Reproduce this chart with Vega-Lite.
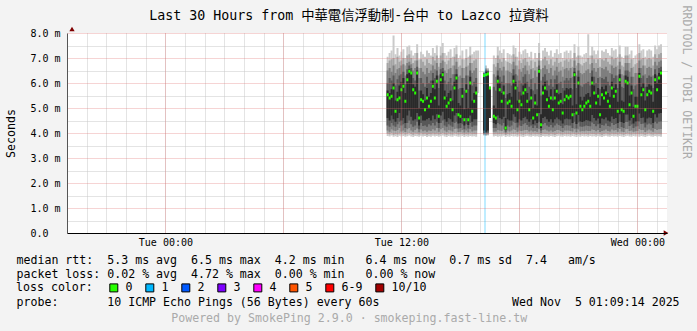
{
"$schema": "https://vega.github.io/schema/vega-lite/v6.json",
"width": 600,
"height": 200,
"autosize": {"type": "none"},
"padding": {"left": 67, "top": 33, "right": 30, "bottom": 98},
"background": "#f3f3f3",
"view": {"fill": "#ffffff", "stroke": null},
"config": {
  "font": "DejaVu Sans Mono",
  "axis": {"labelFont": "DejaVu Sans Mono", "titleFont": "DejaVu Sans Mono", "titleFontWeight": "normal", "titleColor": "#000000", "labelColor": "#000000", "titleLimit": 1000, "labelLimit": 1000}
},
"data": {"values": [
{"h":35.3,"a":3.88,"b":7.05,"c":3.97,"d":6.8,"e":4.1,"f":6.5,"g":4.3,"i":4.6,"j":5.7,"k":6.0,"m":5.53},
{"h":35.4,"a":3.86,"b":7.2,"c":3.95,"d":6.9,"e":4.05,"f":6.6,"g":4.25,"i":4.5,"j":5.6,"k":6.2,"m":5.4},
{"h":35.5,"a":3.9,"b":7.3,"c":4.0,"d":6.95,"e":4.15,"f":6.45,"g":4.4,"i":4.7,"j":5.75,"k":6.1,"m":5.47},
{"h":35.6,"a":3.85,"b":7.9,"c":3.93,"d":7.0,"e":4.1,"f":6.7,"g":4.3,"i":4.55,"j":6.0,"k":6.3,"m":5.8},
{"h":35.7,"a":3.87,"b":7.15,"c":3.96,"d":6.75,"e":4.08,"f":6.4,"g":4.25,"i":4.45,"j":5.3,"k":5.9,"m":4.87},
{"h":35.8,"a":3.84,"b":7.4,"c":3.94,"d":7.05,"e":4.12,"f":6.55,"g":4.35,"i":4.6,"j":5.65,"k":6.15,"m":5.33},
{"h":35.9,"a":3.89,"b":7.1,"c":3.98,"d":6.85,"e":4.2,"f":6.6,"g":4.45,"i":4.8,"j":5.9,"k":6.3,"m":5.4},
{"h":36.0,"a":3.86,"b":7.25,"c":3.95,"d":6.9,"e":4.06,"f":6.7,"g":4.3,"i":4.5,"j":6.05,"k":6.35,"m":5.73},
{"h":36.1,"a":3.88,"b":7.35,"c":3.99,"d":7.0,"e":4.1,"f":6.75,"g":4.35,"i":4.6,"j":6.2,"k":6.45,"m":5.87},
{"h":36.2,"a":3.85,"b":7.0,"c":3.94,"d":6.7,"e":4.04,"f":6.3,"g":4.2,"i":4.4,"j":5.6,"k":5.95,"m":5.27},
{"h":36.3,"a":3.87,"b":7.45,"c":3.97,"d":7.1,"e":4.15,"f":6.8,"g":4.4,"i":4.7,"j":6.35,"k":6.55,"m":6.13},
{"h":36.4,"a":3.9,"b":7.5,"c":4.0,"d":7.15,"e":4.2,"f":6.85,"g":4.5,"i":4.9,"j":6.55,"k":6.7,"m":6.47},
{"h":36.5,"a":3.86,"b":7.3,"c":3.96,"d":7.0,"e":4.1,"f":6.75,"g":4.35,"i":4.65,"j":6.45,"k":6.6,"m":6.4},
{"h":36.6,"a":3.84,"b":7.1,"c":3.93,"d":6.8,"e":4.05,"f":6.5,"g":4.25,"i":4.5,"j":5.95,"k":6.2,"m":5.73},
{"h":36.7,"a":3.88,"b":7.2,"c":3.98,"d":6.9,"e":4.12,"f":6.6,"g":4.3,"i":4.55,"j":5.85,"k":6.1,"m":5.6},
{"h":36.8,"a":3.87,"b":7.55,"c":3.97,"d":7.2,"e":4.18,"f":6.9,"g":4.45,"i":4.8,"j":6.5,"k":6.65,"m":6.4},
{"h":36.9,"a":3.85,"b":6.95,"c":3.94,"d":6.6,"e":4.03,"f":6.2,"g":4.15,"i":4.3,"j":5.0,"k":5.7,"m":4.6},
{"h":37.0,"a":3.89,"b":7.25,"c":3.99,"d":6.95,"e":4.14,"f":6.6,"g":4.4,"i":4.7,"j":5.7,"k":6.2,"m":5.33},
{"h":37.1,"a":3.86,"b":7.15,"c":3.95,"d":6.85,"e":4.07,"f":6.45,"g":4.28,"i":4.5,"j":5.55,"k":6.0,"m":5.27},
{"h":37.2,"a":3.88,"b":7.05,"c":3.97,"d":6.7,"e":4.1,"f":6.35,"g":4.3,"i":4.5,"j":5.3,"k":5.85,"m":4.93},
{"h":37.3,"a":3.84,"b":7.3,"c":3.93,"d":6.95,"e":4.05,"f":6.6,"g":4.25,"i":4.55,"j":5.8,"k":6.25,"m":5.4},
{"h":37.4,"a":3.87,"b":7.2,"c":3.96,"d":6.8,"e":4.1,"f":6.4,"g":4.35,"i":4.6,"j":5.45,"k":6.0,"m":5.07},
{"h":37.5,"a":3.85,"b":7.1,"c":3.95,"d":6.75,"e":4.08,"f":6.5,"g":4.3,"i":4.5,"j":5.6,"k":6.1,"m":5.27},
{"h":37.6,"a":3.89,"b":7.4,"c":3.98,"d":7.05,"e":4.15,"f":6.7,"g":4.4,"i":4.7,"j":6.1,"k":6.4,"m":5.87},
{"h":37.7,"a":3.86,"b":7.2,"c":3.95,"d":6.9,"e":4.1,"f":6.55,"g":4.3,"i":4.55,"j":5.75,"k":6.2,"m":5.4},
{"h":37.8,"a":3.88,"b":7.5,"c":3.97,"d":7.1,"e":4.2,"f":6.8,"g":4.45,"i":4.75,"j":6.3,"k":6.5,"m":6.07},
{"h":37.9,"a":3.85,"b":7.0,"c":3.94,"d":6.65,"e":4.05,"f":6.3,"g":4.2,"i":4.4,"j":5.1,"k":5.8,"m":4.67},
{"h":38.0,"a":3.87,"b":7.45,"c":3.96,"d":7.1,"e":4.15,"f":6.8,"g":4.4,"i":4.7,"j":6.35,"k":6.55,"m":6.13},
{"h":38.1,"a":3.9,"b":7.6,"c":4.0,"d":7.2,"e":4.2,"f":6.9,"g":4.5,"i":4.85,"j":6.45,"k":6.6,"m":6.33},
{"h":38.2,"a":3.86,"b":7.2,"c":3.95,"d":6.85,"e":4.1,"f":6.5,"g":4.3,"i":4.55,"j":5.7,"k":6.1,"m":5.4},
{"h":38.3,"a":3.84,"b":7.1,"c":3.93,"d":6.75,"e":4.05,"f":6.4,"g":4.25,"i":4.45,"j":5.45,"k":5.95,"m":5.07},
{"h":38.4,"a":3.88,"b":7.25,"c":3.98,"d":6.9,"e":4.12,"f":6.55,"g":4.35,"i":4.6,"j":5.6,"k":6.05,"m":5.2},
{"h":38.5,"a":3.86,"b":7.35,"c":3.95,"d":7.0,"e":4.1,"f":6.6,"g":4.3,"i":4.55,"j":5.7,"k":6.2,"m":5.33},
{"h":38.6,"a":3.85,"b":7.05,"c":3.94,"d":6.7,"e":4.06,"f":6.35,"g":4.25,"i":4.45,"j":5.3,"k":5.9,"m":4.93},
{"h":38.7,"a":3.89,"b":7.4,"c":3.99,"d":7.05,"e":4.16,"f":6.7,"g":4.4,"i":4.7,"j":6.05,"k":6.35,"m":5.8},
{"h":38.8,"a":3.87,"b":7.5,"c":3.97,"d":7.15,"e":4.18,"f":6.85,"g":4.45,"i":4.8,"j":6.35,"k":6.55,"m":6.2},
{"h":38.9,"a":3.85,"b":7.0,"c":3.94,"d":6.65,"e":4.04,"f":6.25,"g":4.18,"i":4.38,"j":5.2,"k":5.75,"m":4.73},
{"h":39.0,"a":3.86,"b":7.1,"c":3.95,"d":6.7,"e":4.05,"f":6.3,"g":4.2,"i":4.4,"j":5.1,"k":5.8,"m":4.67},
{"h":39.1,"a":3.88,"b":7.3,"c":3.97,"d":6.95,"e":4.12,"f":6.6,"g":4.35,"i":4.6,"j":5.8,"k":6.2,"m":5.47},
{"h":39.2,"a":3.84,"b":6.95,"c":3.93,"d":6.6,"e":4.02,"f":6.2,"g":4.15,"i":4.3,"j":4.95,"k":5.7,"m":4.53},
{"h":39.3,"a":3.87,"b":7.35,"c":3.96,"d":7.0,"e":4.1,"f":6.65,"g":4.35,"i":4.6,"j":5.95,"k":6.3,"m":5.67},
{"h":39.4,"a":3.85,"b":7.05,"c":3.94,"d":6.7,"e":4.03,"f":6.3,"g":4.18,"i":4.32,"j":5.0,"k":5.75,"m":4.53},
{"h":39.5,"a":3.88,"b":7.45,"c":3.98,"d":7.1,"e":4.15,"f":6.8,"g":4.4,"i":4.7,"j":6.25,"k":6.5,"m":6.0},
{"h":39.6,"a":3.86,"b":7.15,"c":3.95,"d":6.8,"e":4.06,"f":6.4,"g":4.25,"i":4.45,"j":5.3,"k":5.9,"m":4.87},
{"h":39.7,"a":3.87,"b":7.25,"c":3.96,"d":6.9,"e":4.1,"f":6.5,"g":4.3,"i":4.55,"j":5.6,"k":6.05,"m":5.27},
{"h":39.8,"a":3.85,"b":7.3,"c":3.95,"d":6.95,"e":4.1,"f":6.6,"g":4.3,"i":4.55,"j":5.85,"k":6.2,"m":5.6},
{"h":39.9,"a":5.6,"b":7.3},
{"h":40.2,"a":3.9,"b":6.45,"c":3.93,"d":6.42,"e":3.96,"f":6.4,"g":4.0,"i":4.1,"j":6.35,"k":6.38,"m":6.3},
{"h":40.3,"a":3.88,"b":6.7,"c":3.92,"d":6.6,"e":3.95,"f":6.55,"g":4.0,"i":4.05,"j":6.45,"k":6.5,"m":6.33},
{"h":40.4,"a":3.9,"b":6.6,"c":3.93,"d":6.55,"e":3.97,"f":6.5,"g":4.02,"i":4.1,"j":6.42,"k":6.48,"m":6.36},
{"h":40.5,"i":4.6,"j":5.85,"m":5.8},
{"h":40.7,"a":3.86,"b":7.1,"c":3.95,"d":6.75,"e":4.05,"f":6.35,"g":4.2,"i":4.4,"j":5.1,"k":5.85,"m":4.67},
{"h":40.8,"a":3.88,"b":7.0,"c":3.97,"d":6.65,"e":4.06,"f":6.25,"g":4.2,"i":4.35,"j":5.0,"k":5.7,"m":4.6},
{"h":40.9,"a":3.85,"b":7.45,"c":3.95,"d":7.1,"e":4.12,"f":6.8,"g":4.4,"i":4.7,"j":6.3,"k":6.5,"m":6.07},
{"h":41.0,"a":3.87,"b":7.3,"c":3.96,"d":6.95,"e":4.1,"f":6.6,"g":4.35,"i":4.6,"j":6.0,"k":6.25,"m":5.73},
{"h":41.1,"a":3.86,"b":7.2,"c":3.95,"d":6.85,"e":4.08,"f":6.5,"g":4.3,"i":4.55,"j":5.6,"k":6.05,"m":5.27},
{"h":41.2,"a":3.89,"b":7.35,"c":3.98,"d":7.0,"e":4.14,"f":6.65,"g":4.4,"i":4.65,"j":5.9,"k":6.3,"m":5.6},
{"h":41.3,"a":3.84,"b":6.9,"c":3.92,"d":6.5,"e":3.98,"f":6.0,"g":4.05,"i":4.12,"j":4.6,"k":5.4,"m":4.2},
{"h":41.4,"a":3.87,"b":7.2,"c":3.96,"d":6.85,"e":4.1,"f":6.5,"g":4.3,"i":4.55,"j":5.55,"k":6.0,"m":5.2},
{"h":41.5,"a":3.85,"b":7.15,"c":3.94,"d":6.8,"e":4.06,"f":6.45,"g":4.25,"i":4.5,"j":5.6,"k":6.0,"m":5.27},
{"h":41.6,"a":3.88,"b":7.1,"c":3.97,"d":6.75,"e":4.1,"f":6.4,"g":4.3,"i":4.5,"j":5.45,"k":5.9,"m":5.07},
{"h":41.7,"a":3.86,"b":7.5,"c":3.96,"d":7.15,"e":4.15,"f":6.85,"g":4.45,"i":4.75,"j":6.3,"k":6.55,"m":6.07},
{"h":41.8,"a":3.87,"b":7.4,"c":3.97,"d":7.05,"e":4.12,"f":6.7,"g":4.4,"i":4.65,"j":6.05,"k":6.35,"m":5.8},
{"h":41.9,"a":3.85,"b":7.05,"c":3.94,"d":6.7,"e":4.05,"f":6.3,"g":4.22,"i":4.42,"j":5.3,"k":5.85,"m":4.93},
{"h":42.0,"a":3.88,"b":7.25,"c":3.97,"d":6.9,"e":4.1,"f":6.55,"g":4.3,"i":4.55,"j":5.65,"k":6.1,"m":5.27},
{"h":42.1,"a":3.86,"b":7.15,"c":3.95,"d":6.8,"e":4.08,"f":6.45,"g":4.28,"i":4.5,"j":5.5,"k":6.0,"m":5.13},
{"h":42.2,"a":3.84,"b":7.3,"c":3.93,"d":6.95,"e":4.1,"f":6.6,"g":4.35,"i":4.6,"j":5.9,"k":6.25,"m":5.6},
{"h":42.3,"a":3.87,"b":7.35,"c":3.96,"d":7.0,"e":4.12,"f":6.7,"g":4.4,"i":4.65,"j":6.0,"k":6.35,"m":5.73},
{"h":42.4,"a":3.89,"b":7.2,"c":3.98,"d":6.85,"e":4.12,"f":6.5,"g":4.32,"i":4.55,"j":5.6,"k":6.05,"m":5.27},
{"h":42.5,"a":3.86,"b":7.05,"c":3.95,"d":6.7,"e":4.06,"f":6.35,"g":4.25,"i":4.45,"j":5.3,"k":5.85,"m":4.93},
{"h":42.6,"a":3.85,"b":7.25,"c":3.94,"d":6.9,"e":4.1,"f":6.55,"g":4.3,"i":4.55,"j":5.75,"k":6.15,"m":5.4},
{"h":42.7,"a":3.88,"b":6.95,"c":3.97,"d":6.6,"e":4.06,"f":6.2,"g":4.2,"i":4.35,"j":5.0,"k":5.7,"m":4.6},
{"h":42.8,"a":3.86,"b":7.2,"c":3.95,"d":6.85,"e":4.08,"f":6.5,"g":4.3,"i":4.5,"j":5.55,"k":6.0,"m":5.2},
{"h":42.9,"a":3.87,"b":7.0,"c":3.96,"d":6.65,"e":4.05,"f":6.25,"g":4.2,"i":4.4,"j":5.1,"k":5.75,"m":4.73},
{"h":43.0,"a":3.85,"b":7.6,"c":3.95,"d":7.2,"e":4.15,"f":6.9,"g":4.45,"i":4.8,"j":6.55,"k":6.7,"m":6.47},
{"h":43.1,"a":3.84,"b":6.9,"c":3.93,"d":6.55,"e":4.0,"f":6.1,"g":4.1,"i":4.2,"j":4.75,"k":5.5,"m":4.33},
{"h":43.2,"a":3.88,"b":7.3,"c":3.97,"d":6.95,"e":4.12,"f":6.6,"g":4.35,"i":4.6,"j":5.9,"k":6.25,"m":5.6},
{"h":43.3,"a":3.86,"b":7.4,"c":3.96,"d":7.05,"e":4.14,"f":6.7,"g":4.4,"i":4.65,"j":6.05,"k":6.35,"m":5.8},
{"h":43.4,"a":3.87,"b":7.25,"c":3.96,"d":6.9,"e":4.1,"f":6.55,"g":4.3,"i":4.55,"j":5.7,"k":6.1,"m":5.33},
{"h":43.5,"a":3.85,"b":7.1,"c":3.94,"d":6.75,"e":4.06,"f":6.4,"g":4.25,"i":4.45,"j":5.45,"k":5.9,"m":5.07},
{"h":43.6,"a":3.88,"b":7.3,"c":3.97,"d":6.95,"e":4.1,"f":6.6,"g":4.32,"i":4.55,"j":5.75,"k":6.15,"m":5.4},
{"h":43.7,"a":3.86,"b":7.05,"c":3.95,"d":6.7,"e":4.05,"f":6.3,"g":4.22,"i":4.42,"j":5.3,"k":5.85,"m":4.93},
{"h":43.8,"a":3.84,"b":7.2,"c":3.93,"d":6.85,"e":4.08,"f":6.5,"g":4.3,"i":4.55,"j":5.75,"k":6.15,"m":5.4},
{"h":43.9,"a":3.87,"b":7.35,"c":3.96,"d":7.0,"e":4.12,"f":6.65,"g":4.38,"i":4.62,"j":5.95,"k":6.3,"m":5.67},
{"h":44.0,"a":3.89,"b":7.15,"c":3.98,"d":6.8,"e":4.12,"f":6.45,"g":4.32,"i":4.55,"j":5.55,"k":6.0,"m":5.2},
{"h":44.1,"a":3.86,"b":7.2,"c":3.95,"d":6.85,"e":4.08,"f":6.5,"g":4.28,"i":4.5,"j":5.6,"k":6.05,"m":5.27},
{"h":44.2,"a":3.85,"b":7.0,"c":3.94,"d":6.65,"e":4.04,"f":6.25,"g":4.2,"i":4.38,"j":5.15,"k":5.8,"m":4.8},
{"h":44.3,"a":3.88,"b":7.25,"c":3.97,"d":6.9,"e":4.1,"f":6.55,"g":4.3,"i":4.55,"j":5.7,"k":6.1,"m":5.33},
{"h":44.4,"a":3.86,"b":7.3,"c":3.95,"d":6.95,"e":4.1,"f":6.6,"g":4.32,"i":4.58,"j":5.8,"k":6.2,"m":5.47},
{"h":44.5,"a":3.87,"b":7.2,"c":3.96,"d":6.85,"e":4.1,"f":6.5,"g":4.3,"i":4.55,"j":5.75,"k":6.1,"m":5.4},
{"h":44.6,"a":3.85,"b":7.3,"c":3.94,"d":6.95,"e":4.08,"f":6.6,"g":4.3,"i":4.55,"j":5.8,"k":6.2,"m":5.47},
{"h":44.7,"a":3.88,"b":7.0,"c":3.97,"d":6.65,"e":4.06,"f":6.25,"g":4.2,"i":4.4,"j":5.1,"k":5.75,"m":4.73},
{"h":44.8,"a":3.86,"b":7.55,"c":3.96,"d":7.2,"e":4.15,"f":6.9,"g":4.45,"i":4.8,"j":6.45,"k":6.6,"m":6.33},
{"h":44.9,"a":3.84,"b":7.05,"c":3.93,"d":6.7,"e":4.03,"f":6.3,"g":4.18,"i":4.36,"j":5.15,"k":5.8,"m":4.8},
{"h":45.0,"a":3.87,"b":7.45,"c":3.96,"d":7.1,"e":4.14,"f":6.8,"g":4.42,"i":4.72,"j":6.25,"k":6.5,"m":6.0},
{"h":45.1,"a":3.85,"b":7.1,"c":3.94,"d":6.75,"e":4.06,"f":6.4,"g":4.26,"i":4.46,"j":5.45,"k":5.9,"m":5.07},
{"h":45.2,"a":3.88,"b":7.05,"c":3.97,"d":6.7,"e":4.08,"f":6.35,"g":4.25,"i":4.44,"j":5.3,"k":5.85,"m":4.93},
{"h":45.3,"a":3.86,"b":7.15,"c":3.95,"d":6.8,"e":4.07,"f":6.4,"g":4.27,"i":4.47,"j":5.45,"k":5.95,"m":5.07},
{"h":45.4,"a":3.87,"b":7.2,"c":3.96,"d":6.85,"e":4.1,"f":6.5,"g":4.3,"i":4.52,"j":5.55,"k":6.0,"m":5.2},
{"h":45.5,"a":3.85,"b":7.95,"c":3.94,"d":7.0,"e":4.08,"f":6.55,"g":4.28,"i":4.5,"j":5.6,"k":6.05,"m":5.27},
{"h":45.6,"a":3.88,"b":7.1,"c":3.97,"d":6.75,"e":4.08,"f":6.4,"g":4.27,"i":4.47,"j":5.45,"k":5.9,"m":5.07},
{"h":45.7,"a":3.86,"b":7.45,"c":3.96,"d":7.1,"e":4.14,"f":6.8,"g":4.42,"i":4.72,"j":6.25,"k":6.5,"m":6.0},
{"h":45.8,"a":3.87,"b":7.3,"c":3.96,"d":6.95,"e":4.12,"f":6.6,"g":4.36,"i":4.6,"j":5.9,"k":6.25,"m":5.6},
{"h":45.9,"a":3.85,"b":7.15,"c":3.94,"d":6.8,"e":4.07,"f":6.45,"g":4.27,"i":4.5,"j":5.55,"k":6.0,"m":5.2},
{"h":46.0,"a":3.88,"b":7.3,"c":3.97,"d":6.95,"e":4.12,"f":6.6,"g":4.35,"i":4.58,"j":5.8,"k":6.2,"m":5.47},
{"h":46.1,"a":3.86,"b":7.0,"c":3.95,"d":6.65,"e":4.04,"f":6.25,"g":4.2,"i":4.38,"j":5.1,"k":5.75,"m":4.73},
{"h":46.2,"a":3.84,"b":7.3,"c":3.93,"d":6.95,"e":4.08,"f":6.6,"g":4.32,"i":4.58,"j":5.85,"k":6.2,"m":5.53},
{"h":46.3,"a":3.87,"b":7.25,"c":3.96,"d":6.9,"e":4.1,"f":6.55,"g":4.3,"i":4.55,"j":5.75,"k":6.15,"m":5.4},
{"h":46.4,"a":3.89,"b":7.35,"c":3.98,"d":7.0,"e":4.14,"f":6.65,"g":4.38,"i":4.62,"j":5.9,"k":6.25,"m":5.6},
{"h":46.5,"a":3.86,"b":7.2,"c":3.95,"d":6.85,"e":4.08,"f":6.5,"g":4.28,"i":4.5,"j":5.6,"k":6.05,"m":5.27},
{"h":46.6,"a":3.85,"b":7.1,"c":3.94,"d":6.75,"e":4.06,"f":6.4,"g":4.26,"i":4.46,"j":5.45,"k":5.9,"m":5.07},
{"h":46.7,"a":3.88,"b":7.4,"c":3.97,"d":7.05,"e":4.14,"f":6.7,"g":4.4,"i":4.66,"j":6.05,"k":6.35,"m":5.8},
{"h":46.8,"a":3.86,"b":7.3,"c":3.95,"d":6.95,"e":4.1,"f":6.6,"g":4.32,"i":4.56,"j":5.8,"k":6.2,"m":5.47},
{"h":46.9,"a":3.87,"b":7.35,"c":3.96,"d":7.0,"e":4.12,"f":6.65,"g":4.36,"i":4.6,"j":5.95,"k":6.3,"m":5.67},
{"h":47.0,"a":3.85,"b":7.05,"c":3.94,"d":6.7,"e":4.05,"f":6.3,"g":4.2,"i":4.4,"j":5.25,"k":5.8,"m":4.87},
{"h":47.1,"a":3.88,"b":7.5,"c":3.97,"d":7.15,"e":4.16,"f":6.85,"g":4.45,"i":4.75,"j":6.35,"k":6.55,"m":6.13},
{"h":47.2,"a":3.86,"b":7.05,"c":3.95,"d":6.7,"e":4.06,"f":6.35,"g":4.24,"i":4.44,"j":5.3,"k":5.85,"m":4.93},
{"h":47.3,"a":3.84,"b":7.0,"c":3.93,"d":6.65,"e":4.04,"f":6.3,"g":4.2,"i":4.4,"j":5.25,"k":5.8,"m":4.87},
{"h":47.4,"a":3.87,"b":7.45,"c":3.96,"d":7.1,"e":4.15,"f":6.8,"g":4.44,"i":4.74,"j":6.3,"k":6.5,"m":6.07},
{"h":47.5,"a":3.89,"b":7.45,"c":3.98,"d":7.1,"e":4.16,"f":6.8,"g":4.44,"i":4.74,"j":6.25,"k":6.5,"m":6.0},
{"h":47.6,"a":3.86,"b":7.15,"c":3.95,"d":6.8,"e":4.08,"f":6.45,"g":4.28,"i":4.5,"j":5.5,"k":6.0,"m":5.13},
{"h":47.7,"a":3.85,"b":7.3,"c":3.94,"d":6.95,"e":4.1,"f":6.6,"g":4.34,"i":4.6,"j":5.9,"k":6.25,"m":5.6},
{"h":47.8,"a":3.88,"b":7.0,"c":3.97,"d":6.65,"e":4.05,"f":6.25,"g":4.2,"i":4.38,"j":5.05,"k":5.75,"m":4.67},
{"h":47.9,"a":3.86,"b":7.1,"c":3.95,"d":6.75,"e":4.07,"f":6.4,"g":4.26,"i":4.46,"j":5.45,"k":5.9,"m":5.07},
{"h":48.0,"a":3.87,"b":7.15,"c":3.96,"d":6.8,"e":4.08,"f":6.4,"g":4.27,"i":4.47,"j":5.45,"k":5.95,"m":5.07},
{"h":48.1,"a":3.85,"b":7.55,"c":3.95,"d":7.2,"e":4.16,"f":6.9,"g":4.46,"i":4.78,"j":6.4,"k":6.6,"m":6.27},
{"h":48.2,"a":3.88,"b":7.3,"c":3.97,"d":6.95,"e":4.12,"f":6.6,"g":4.36,"i":4.6,"j":5.85,"k":6.2,"m":5.53},
{"h":48.3,"a":3.86,"b":7.35,"c":3.95,"d":7.0,"e":4.12,"f":6.7,"g":4.38,"i":4.62,"j":6.0,"k":6.3,"m":5.73},
{"h":48.4,"a":3.84,"b":7.05,"c":3.93,"d":6.7,"e":4.04,"f":6.35,"g":4.22,"i":4.42,"j":5.3,"k":5.85,"m":4.93},
{"h":48.5,"a":3.87,"b":7.3,"c":3.96,"d":6.95,"e":4.1,"f":6.6,"g":4.34,"i":4.58,"j":5.85,"k":6.2,"m":5.53},
{"h":48.6,"a":3.89,"b":7.35,"c":3.98,"d":7.0,"e":4.14,"f":6.65,"g":4.38,"i":4.62,"j":5.95,"k":6.3,"m":5.67},
{"h":48.7,"a":3.86,"b":7.3,"c":3.95,"d":6.95,"e":4.1,"f":6.6,"g":4.34,"i":4.6,"j":5.9,"k":6.25,"m":5.6},
{"h":48.8,"a":3.85,"b":7.05,"c":3.94,"d":6.7,"e":4.05,"f":6.3,"g":4.2,"i":4.4,"j":5.25,"k":5.8,"m":4.87},
{"h":48.9,"a":3.88,"b":7.5,"c":3.97,"d":7.15,"e":4.16,"f":6.85,"g":4.45,"i":4.75,"j":6.35,"k":6.55,"m":6.13},
{"h":49.0,"a":3.86,"b":7.35,"c":3.95,"d":7.0,"e":4.12,"f":6.7,"g":4.38,"i":4.62,"j":6.0,"k":6.3,"m":5.73},
{"h":49.1,"a":3.87,"b":7.5,"c":3.96,"d":7.15,"e":4.15,"f":6.85,"g":4.45,"i":4.78,"j":6.4,"k":6.6,"m":6.2},
{"h":49.2,"a":3.85,"b":7.55,"c":3.95,"d":7.2,"e":4.16,"f":6.9,"g":4.46,"i":4.8,"j":6.5,"k":6.65,"m":6.4}
]},
"resolve": {"axis": {"x": "independent", "y": "independent"}},
"layer": [
  {
    "mark": {"type": "bar", "width": 2, "color": "#cacaca"},
    "encoding": {
      "x": {"field": "h", "type": "quantitative", "scale": {"domain": [19.25, 49.25], "nice": false, "zero": false},
        "axis": {"orient": "bottom", "grid": true, "gridColor": "#c8c8c8", "gridDash": [1, 1], "values": [20,21,22,23,24,25,26,27,28,29,30,31,32,33,34,35,36,37,38,39,40,41,42,43,44,45,46,47,48,49], "labels": false, "ticks": false, "domain": false, "zindex": 0,
          "title": "Powered by SmokePing 2.9.0 · smokeping.fast-line.tw", "titleColor": "#aaaaaa", "titleFontSize": 11.6, "titleX": 281.7, "titleY": 85.7, "titleAlign": "center", "titleBaseline": "middle", "titleAngle": 0}},
      "y": {"field": "a", "type": "quantitative", "scale": {"domain": [0, 8], "nice": false},
        "axis": {"orient": "right", "grid": true, "gridColor": "#c8c8c8", "gridDash": [1, 1], "values": [0.5, 1.5, 2.5, 3.5, 4.5, 5.5, 6.5, 7.5], "labels": false, "ticks": false, "domain": false, "zindex": 0,
          "title": "RRDTOOL / TOBI OETIKER", "titleColor": "#aaaaaa", "titleFontSize": 11.6, "titleAngle": 90, "titleX": 18, "titleY": -28, "titleAlign": "left", "titleBaseline": "middle"}},
      "y2": {"field": "b"}
    }
  },
  {
    "mark": {"type": "bar", "width": 2, "color": "#a4a4a4"},
    "encoding": {
      "x": {"field": "h", "type": "quantitative", "scale": {"domain": [19.25, 49.25], "nice": false, "zero": false},
        "axis": {"orient": "bottom", "grid": true, "gridColor": "#e07070", "gridOpacity": 0.6, "gridDash": [1, 1], "values": [24, 30, 36, 42, 48],
          "labelExpr": "datum.value == 24 ? 'Tue 00:00' : datum.value == 36 ? 'Tue 12:00' : datum.value == 48 ? 'Wed 00:00' : ''", "labelFontSize": 10, "labelPadding": 9, "labelBaseline": "middle", "labelOverlap": false, "labelFlush": false,
          "ticks": false, "domain": true, "domainColor": "#000000", "zindex": 1,
          "title": ["median rtt:\u00a0\u00a05.3 ms avg\u00a0\u00a06.5 ms max\u00a0\u00a04.2 ms min\u00a0\u00a0\u00a06.4 ms now\u00a0\u00a00.7 ms sd\u00a0\u00a07.4\u00a0\u00a0\u00a0am/s", "packet loss: 0.02 % avg\u00a0\u00a04.72 % max\u00a0\u00a00.00 % min\u00a0\u00a0\u00a00.00 % now"],
          "titleFontSize": 11.6, "titleX": -51, "titleY": 30, "titleAlign": "left", "titleBaseline": "alphabetic", "titleLineHeight": 14, "titleAngle": 0}},
      "y": {"field": "c", "type": "quantitative", "scale": {"domain": [0, 8], "nice": false},
        "axis": {"orient": "left", "grid": true, "gridColor": "#e07070", "gridOpacity": 0.6, "gridDash": [1, 1], "values": [0, 1, 2, 3, 4, 5, 6, 7, 8],
          "labelExpr": "datum.value == 0 ? '0.0' : format(datum.value, '.1f') + ' m'", "labelAlign": "left", "labelPadding": 37, "labelBaseline": "middle", "labelFontSize": 10,
          "ticks": false, "domain": true, "domainColor": "#555555", "zindex": 1,
          "title": "Seconds", "titleFontSize": 11.6, "titleX": -56, "titleY": 100, "titleAngle": 270, "titleAlign": "center", "titleBaseline": "middle"}},
      "y2": {"field": "d"}
    }
  },
  {
    "mark": {"type": "bar", "width": 2, "color": "#7e7e7e"},
    "encoding": {
      "x": {"field": "h", "type": "quantitative", "scale": {"domain": [19.25, 49.25], "nice": false, "zero": false},
        "axis": {"orient": "top", "grid": false, "labels": false, "ticks": false, "domain": false,
          "title": "Last 30 Hours from 中華電信浮動制-台中 to Lazco 拉資料", "titleFont": "DejaVu Sans Mono, Noto Sans CJK TC", "titleFontSize": 13.3, "titleX": 281.5, "titleY": -18, "titleAlign": "center", "titleBaseline": "middle", "titleAngle": 0}},
      "y": {"field": "e", "type": "quantitative", "scale": {"domain": [0, 8], "nice": false}, "axis": null},
      "y2": {"field": "f"}
    }
  },
  {
    "mark": {"type": "bar", "width": 2, "color": "#585858"},
    "encoding": {
      "x": {"field": "h", "type": "quantitative", "scale": {"domain": [19.25, 49.25], "nice": false, "zero": false},
        "axis": {"orient": "bottom", "grid": false, "labels": false, "ticks": false, "domain": false,
          "title": "probe:\u00a0\u00a0\u00a0\u00a0\u00a0\u00a0\u00a010 ICMP Echo Pings (56 Bytes) every 60s\u00a0\u00a0\u00a0\u00a0\u00a0\u00a0\u00a0\u00a0\u00a0\u00a0\u00a0\u00a0\u00a0\u00a0\u00a0\u00a0\u00a0\u00a0\u00a0Wed Nov\u00a0\u00a05 01:09:14 2025",
          "titleFontSize": 11.6, "titleX": -51, "titleY": 72.3, "titleAlign": "left", "titleBaseline": "alphabetic", "titleAngle": 0}},
      "y": {"field": "g", "type": "quantitative", "axis": null},
      "y2": {"field": "k"}
    }
  },
  {
    "mark": {"type": "bar", "width": 2, "color": "#2a2a2a"},
    "encoding": {
      "x": {"field": "h", "type": "quantitative", "axis": null},
      "y": {"field": "i", "type": "quantitative", "axis": null},
      "y2": {"field": "j"}
    }
  },
  {
    "mark": {"type": "tick", "orient": "horizontal", "color": "#26ff00", "size": 2, "thickness": 3, "opacity": 1},
    "encoding": {
      "x": {"field": "h", "type": "quantitative", "axis": null},
      "y": {"field": "m", "type": "quantitative", "axis": null}
    }
  },
  {
    "data": {"values": [{"h": 40.25, "loss": "1"}]},
    "mark": {"type": "bar", "width": 1, "opacity": 0.5},
    "encoding": {
      "x": {"field": "h", "type": "quantitative", "axis": null},
      "y": {"datum": 0, "type": "quantitative", "axis": null},
      "y2": {"datum": 8},
      "color": {"field": "loss", "type": "nominal",
        "scale": {"domain": ["0", "1", "2", "3", "4", "5", "6-9", "10/10"], "range": ["#26ff00", "#00b8ff", "#0059ff", "#7e00ff", "#ff00ff", "#ff5500", "#ff0000", "#a10000"]},
        "legend": {"orient": "none", "legendX": -51, "legendY": 249, "direction": "horizontal", "padding": 0,
          "title": "loss color:", "titleOrient": "left", "titleFont": "DejaVu Sans Mono", "titleFontSize": 11.6, "titleFontWeight": "normal", "titleColor": "#000000", "titlePadding": 15, "titleBaseline": "middle", "titleAnchor": "middle",
          "symbolType": "square", "symbolSize": 64, "symbolStrokeColor": "#000000", "symbolStrokeWidth": 1, "symbolOpacity": 1,
          "labelFont": "DejaVu Sans Mono", "labelFontSize": 11.6, "labelColor": "#000000", "labelOffset": 6, "columnPadding": 10,
          "encode": {"symbols": {"update": {"stroke": {"value": "#000000"}, "strokeWidth": {"value": 1}, "opacity": {"value": 1}}}}}}
    }
  },
  {
    "data": {"values": [{}]},
    "mark": {"type": "point", "shape": "triangle-right", "filled": true, "color": "#7f0000", "size": 28, "opacity": 1, "xOffset": 4},
    "encoding": {
      "x": {"datum": 49.25, "type": "quantitative", "axis": null},
      "y": {"datum": 0, "type": "quantitative", "axis": null}
    }
  },
  {
    "data": {"values": [{}]},
    "mark": {"type": "point", "shape": "triangle-up", "filled": true, "color": "#7f0000", "size": 28, "opacity": 1, "yOffset": -4},
    "encoding": {
      "x": {"datum": 19.25, "type": "quantitative", "axis": null},
      "y": {"datum": 8, "type": "quantitative", "axis": null}
    }
  }
]
}
